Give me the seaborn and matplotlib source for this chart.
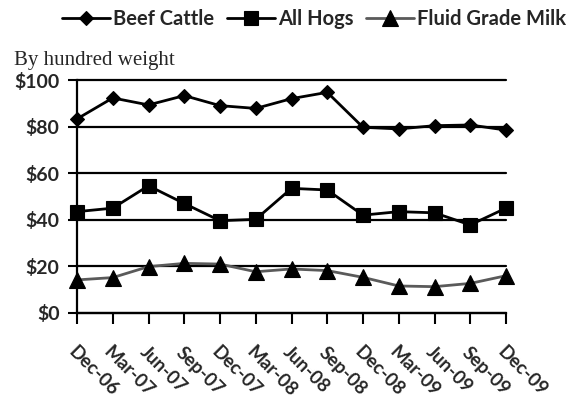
import numpy as np
import pandas as pd
import matplotlib
matplotlib.use("Agg")
import matplotlib.pyplot as plt
import seaborn as sns

# Quarterly prices, dollars per hundred weight
months = ["Dec-06", "Mar-07", "Jun-07", "Sep-07", "Dec-07", "Mar-08", "Jun-08",
          "Sep-08", "Dec-08", "Mar-09", "Jun-09", "Sep-09", "Dec-09"]
beef_cattle = [83.3, 92.3, 89.3, 93.3, 89.0, 87.8, 92.0, 94.7, 79.7, 79.0, 80.4, 80.7, 78.5]
all_hogs = [43.5, 45.0, 54.6, 47.0, 39.6, 40.2, 53.5, 52.8, 42.0, 43.5, 43.0, 37.8, 45.0]
fluid_milk = [14.2, 15.2, 19.9, 21.3, 21.0, 17.7, 18.9, 18.2, 15.3, 11.6, 11.3, 12.7, 16.0]
y_ticks = [0, 20, 40, 60, 80, 100]
y_labels = ["$0", "$20", "$40", "$60", "$80", "$100"]

sns.set_theme(style="white")
plt.rcParams["font.family"] = ["Lato", "DejaVu Sans"]

fig = plt.figure(figsize=(5.78, 4.03), dpi=100)
ax = fig.add_axes([77 / 578, 1 - 313 / 403, (506 - 77) / 578, (313 - 80) / 403])

df = pd.DataFrame({"pos": np.arange(len(months)), "beef": beef_cattle,
                   "hogs": all_hogs, "milk": fluid_milk})

series = [
    ("beef", "Beef Cattle", "D", 7.6, "black"),
    ("hogs", "All Hogs", "s", 10.5, "black"),
    ("milk", "Fluid Grade Milk", "^", 11.0, "#5a5a5a"),
]
for col, label, marker, ms, lc in series:
    sns.lineplot(data=df, x="pos", y=col, ax=ax, color=lc, linewidth=2.0,
                 marker=marker, markersize=ms, markerfacecolor="black",
                 markeredgecolor="black", markeredgewidth=0.8,
                 label=label, clip_on=False, zorder=5)

ax.set_xlim(0, len(months) - 1)
ax.set_ylim(0, 100)
ax.set_xticks(df["pos"])
ax.set_xticklabels(months, rotation=-45, ha="left", va="top",
                   rotation_mode="anchor", fontsize=13.5, fontweight="bold")
ax.set_yticks(y_ticks)
ax.set_yticklabels(y_labels, fontsize=14, fontweight="bold")
ax.set_xlabel("")
ax.set_ylabel("")

ax.tick_params(axis="x", direction="out", length=8, width=1.5, color="black",
               pad=14, bottom=True)
ax.tick_params(axis="y", direction="out", length=6.5, width=1.5, color="black",
               pad=6, left=True)

ax.yaxis.grid(True, color="black", linewidth=1.6)
ax.xaxis.grid(False)
for gl in ax.get_ygridlines():
    gl.set_clip_on(False)

for side in ["top", "right"]:
    ax.spines[side].set_visible(False)
for side in ["left", "bottom"]:
    ax.spines[side].set_color("black")
    ax.spines[side].set_linewidth(1.6)

handles, labels = ax.get_legend_handles_labels()
ax.legend_.remove()
fig.legend(handles, labels, loc="center", bbox_to_anchor=(314 / 578, 1 - 19 / 403),
           ncol=3, frameon=False, handlelength=2.4, handletextpad=0.15,
           columnspacing=0.6, prop={"family": "Lato", "weight": "bold", "size": 14.5})

fig.text(14 / 578, 1 - 60 / 403, "By hundred weight", ha="left", va="center",
         family="Liberation Serif", fontsize=15)

fig.savefig("out.png", dpi=100)
